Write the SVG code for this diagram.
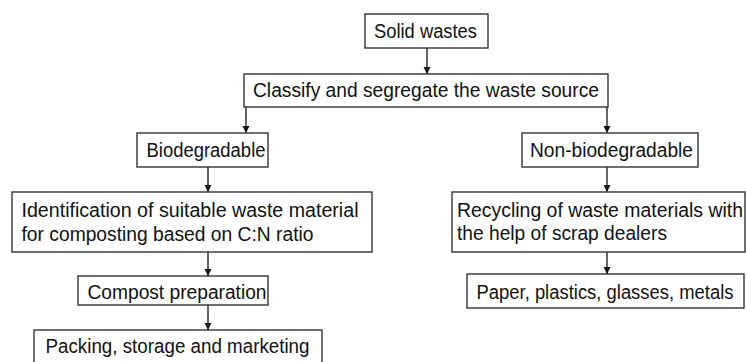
<svg xmlns="http://www.w3.org/2000/svg" width="746" height="362" viewBox="0 0 746 362">
<defs>
<style>
.box{fill:#fff;stroke:#333;stroke-width:1.4}
.t{font-family:"Liberation Sans",Arial,sans-serif;font-size:19.5px;fill:#111}
.c{stroke:#111;stroke-width:1.3;fill:none;marker-end:url(#ah)}
</style>
<marker id="ah" markerWidth="8" markerHeight="8" refX="7" refY="4" orient="auto" markerUnits="userSpaceOnUse">
<path d="M0,0.5 L7,4 L0,7.5 Z" fill="#111"/>
</marker>
</defs>
<rect width="746" height="362" fill="#fff"/>
<g id="connectors">
<line class="c" x1="427" y1="48" x2="427" y2="74"/>
<line class="c" x1="246" y1="107" x2="246" y2="133"/>
<line class="c" x1="607" y1="107" x2="607" y2="133"/>
<line class="c" x1="208" y1="167" x2="208" y2="192"/>
<line class="c" x1="607" y1="167" x2="607" y2="192"/>
<line class="c" x1="208" y1="252" x2="208" y2="276"/>
<line class="c" x1="607" y1="252" x2="607" y2="274"/>
<line class="c" x1="208" y1="305" x2="208" y2="330"/>
</g>
<g id="solid">
<rect class="box" x="365" y="14" width="123" height="34"/>
<text class="t" x="374" y="37.5" textLength="103" lengthAdjust="spacingAndGlyphs">Solid wastes</text>
</g>
<g id="classify">
<rect class="box" x="244" y="74" width="364" height="33"/>
<text class="t" x="253" y="97" textLength="346" lengthAdjust="spacingAndGlyphs">Classify and segregate the waste source</text>
</g>
<g id="bio">
<rect class="box" x="137" y="133" width="131" height="34"/>
<text class="t" x="146.5" y="157" textLength="119" lengthAdjust="spacingAndGlyphs">Biodegradable</text>
</g>
<g id="nonbio">
<rect class="box" x="522" y="133" width="176" height="34"/>
<text class="t" x="530" y="157" textLength="163" lengthAdjust="spacingAndGlyphs">Non-biodegradable</text>
</g>
<g id="ident">
<rect class="box" x="12" y="192" width="360" height="60"/>
<text class="t" x="21.5" y="217" textLength="337" lengthAdjust="spacingAndGlyphs">Identification of suitable waste material</text>
<text class="t" x="21.5" y="240.5" textLength="292" lengthAdjust="spacingAndGlyphs">for composting based on C:N ratio</text>
</g>
<g id="recycle">
<rect class="box" x="452" y="192" width="293" height="60"/>
<text class="t" x="457" y="217" textLength="286" lengthAdjust="spacingAndGlyphs">Recycling of waste materials with</text>
<text class="t" x="457" y="240" textLength="210" lengthAdjust="spacingAndGlyphs">the help of scrap dealers</text>
</g>
<g id="compost">
<rect class="box" x="78" y="276" width="190" height="29"/>
<text class="t" x="87.5" y="299" textLength="179" lengthAdjust="spacingAndGlyphs">Compost preparation</text>
</g>
<g id="paper">
<rect class="box" x="467" y="274" width="277" height="34"/>
<text class="t" x="476.5" y="299" textLength="257" lengthAdjust="spacingAndGlyphs">Paper, plastics, glasses, metals</text>
</g>
<g id="packing">
<rect class="box" x="34" y="330" width="288" height="40"/>
<text class="t" x="45.5" y="353" textLength="264" lengthAdjust="spacingAndGlyphs">Packing, storage and marketing</text>
</g>
</svg>
